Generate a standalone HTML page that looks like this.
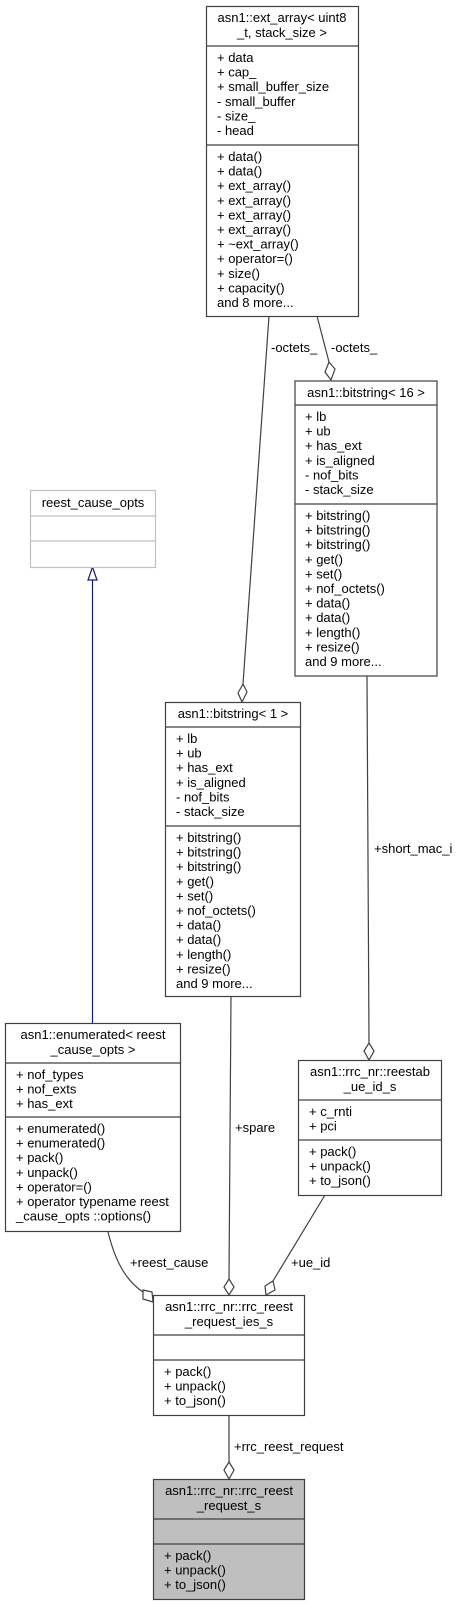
<!DOCTYPE html>
<html><head><meta charset="utf-8"><style>
html,body{margin:0;padding:0;background:#fff;}
svg{display:block;}
text{font-family:"Liberation Sans",Arial,sans-serif;font-size:13px;fill:#000;}
</style></head><body>
<svg width="459" height="1605" viewBox="0 0 459 1605" xmlns="http://www.w3.org/2000/svg">
<g fill="none" stroke="#404040" stroke-width="1.2">
<path d="M269,316 L243,684"/>
<path d="M317,316 L329,362"/>
<path d="M367,676 L369,1043"/>
<path d="M231,996 L229,1279"/>
<path d="M108,1232 C115,1260 125,1280 143,1292"/>
<path d="M325,1195 L273,1281"/>
<path d="M229,1415 L229,1462"/>
</g>
<g fill="#fff" stroke="#404040" stroke-width="1.2">
<polygon points="243,684 247,692 242,702 238,693"/>
<polygon points="329,362 335,369 331,380 325,372"/>
<polygon points="369,1043 374,1051 369,1060 364,1051"/>
<polygon points="229,1279 234,1287 229,1295 224,1287"/>
<polygon points="143,1290 152,1292 153,1302 143,1299"/>
<polygon points="273,1281 275,1290 266,1295 265,1286"/>
<polygon points="229,1462 234,1470 229,1479 224,1470"/>
</g>
<line x1="92.5" y1="580" x2="92.5" y2="1023" stroke="#191970" stroke-width="1.2"/>
<polygon points="92.5,567 97,580 88,580" fill="#fff" stroke="#191970" stroke-width="1.2"/>

<g stroke="#404040" stroke-width="1.2" fill="#fff">
<rect x="206.5" y="6.5" width="152" height="310"/>
<line x1="206.5" y1="46" x2="358.5" y2="46"/><line x1="206.5" y1="145" x2="358.5" y2="145"/>
<rect x="295" y="381" width="142" height="295"/>
<line x1="295" y1="405" x2="437" y2="405"/><line x1="295" y1="504" x2="437" y2="504"/>
<rect x="165.5" y="702.5" width="135" height="294"/>
<line x1="165.5" y1="727" x2="300.5" y2="727"/><line x1="165.5" y1="826" x2="300.5" y2="826"/>
<rect x="5.5" y="1023.5" width="175" height="208"/>
<line x1="5.5" y1="1063" x2="180.5" y2="1063"/><line x1="5.5" y1="1117" x2="180.5" y2="1117"/>
<rect x="298.5" y="1060.5" width="143" height="135"/>
<line x1="298.5" y1="1100" x2="441.5" y2="1100"/><line x1="298.5" y1="1140" x2="441.5" y2="1140"/>
<rect x="153.5" y="1295.5" width="151" height="120"/>
<line x1="153.5" y1="1335" x2="304.5" y2="1335"/><line x1="153.5" y1="1360" x2="304.5" y2="1360"/>
<rect x="153.5" y="1479.5" width="151" height="120" fill="#bfbfbf"/>
<line x1="153.5" y1="1519" x2="304.5" y2="1519"/><line x1="153.5" y1="1544" x2="304.5" y2="1544"/>
</g>
<g stroke="#c0c0c0" stroke-width="1.2" fill="#fff">
<rect x="30.5" y="490.5" width="125" height="77"/>
<line x1="30.5" y1="516" x2="155.5" y2="516"/><line x1="30.5" y1="541" x2="155.5" y2="541"/>
</g>

<g text-anchor="middle">
<text x="282" y="22">asn1::ext_array&lt; uint8</text><text x="282" y="37">_t, stack_size &gt;</text>
<text x="366" y="397">asn1::bitstring&lt; 16 &gt;</text>
<text x="93" y="507">reest_cause_opts</text>
<text x="233" y="718">asn1::bitstring&lt; 1 &gt;</text>
<text x="93" y="1039">asn1::enumerated&lt; reest</text><text x="93" y="1054">_cause_opts &gt;</text>
<text x="370" y="1076">asn1::rrc_nr::reestab</text><text x="370" y="1091">_ue_id_s</text>
<text x="229" y="1311">asn1::rrc_nr::rrc_reest</text><text x="229" y="1326">_request_ies_s</text>
<text x="229" y="1495">asn1::rrc_nr::rrc_reest</text><text x="229" y="1510">_request_s</text>
</g>
<g>
<text x="217" y="62">+ data</text><text x="217" y="76.6">+ cap_</text><text x="217" y="91.2">+ small_buffer_size</text><text x="217" y="105.8">- small_buffer</text><text x="217" y="120.4">- size_</text><text x="217" y="135">- head</text>
<text x="217" y="161">+ data()</text><text x="217" y="175.6">+ data()</text><text x="217" y="190.2">+ ext_array()</text><text x="217" y="204.8">+ ext_array()</text><text x="217" y="219.4">+ ext_array()</text><text x="217" y="234">+ ext_array()</text><text x="217" y="248.6">+ ~ext_array()</text><text x="217" y="263.2">+ operator=()</text><text x="217" y="277.8">+ size()</text><text x="217" y="292.4">+ capacity()</text><text x="217" y="307">and 8 more...</text>

<text x="305" y="421">+ lb</text><text x="305" y="435.6">+ ub</text><text x="305" y="450.2">+ has_ext</text><text x="305" y="464.8">+ is_aligned</text><text x="305" y="479.4">- nof_bits</text><text x="305" y="494">- stack_size</text>
<text x="305" y="520">+ bitstring()</text><text x="305" y="534.6">+ bitstring()</text><text x="305" y="549.2">+ bitstring()</text><text x="305" y="563.8">+ get()</text><text x="305" y="578.4">+ set()</text><text x="305" y="593">+ nof_octets()</text><text x="305" y="607.6">+ data()</text><text x="305" y="622.2">+ data()</text><text x="305" y="636.8">+ length()</text><text x="305" y="651.4">+ resize()</text><text x="305" y="666">and 9 more...</text>

<text x="176" y="743">+ lb</text><text x="176" y="757.6">+ ub</text><text x="176" y="772.2">+ has_ext</text><text x="176" y="786.8">+ is_aligned</text><text x="176" y="801.4">- nof_bits</text><text x="176" y="816">- stack_size</text>
<text x="176" y="842">+ bitstring()</text><text x="176" y="856.6">+ bitstring()</text><text x="176" y="871.2">+ bitstring()</text><text x="176" y="885.8">+ get()</text><text x="176" y="900.4">+ set()</text><text x="176" y="915">+ nof_octets()</text><text x="176" y="929.6">+ data()</text><text x="176" y="944.2">+ data()</text><text x="176" y="958.8">+ length()</text><text x="176" y="973.4">+ resize()</text><text x="176" y="988">and 9 more...</text>

<text x="16" y="1079">+ nof_types</text><text x="16" y="1093.6">+ nof_exts</text><text x="16" y="1108.2">+ has_ext</text>
<text x="16" y="1133">+ enumerated()</text><text x="16" y="1147.6">+ enumerated()</text><text x="16" y="1162.2">+ pack()</text><text x="16" y="1176.8">+ unpack()</text><text x="16" y="1191.4">+ operator=()</text><text x="16" y="1206">+ operator typename reest</text><text x="16" y="1220.6">_cause_opts ::options()</text>

<text x="309" y="1116">+ c_rnti</text><text x="309" y="1130.6">+ pci</text>
<text x="309" y="1156">+ pack()</text><text x="309" y="1170.6">+ unpack()</text><text x="309" y="1185.2">+ to_json()</text>

<text x="164" y="1376">+ pack()</text><text x="164" y="1390.6">+ unpack()</text><text x="164" y="1405.2">+ to_json()</text>
<text x="164" y="1560">+ pack()</text><text x="164" y="1574.6">+ unpack()</text><text x="164" y="1589.2">+ to_json()</text>

<text x="271" y="352">-octets_</text>
<text x="331" y="352">-octets_</text>
<text x="374" y="853">+short_mac_i</text>
<text x="235" y="1132">+spare</text>
<text x="130" y="1267">+reest_cause</text>
<text x="291" y="1267">+ue_id</text>
<text x="234" y="1451">+rrc_reest_request</text>
</g>
</svg>
</body></html>
